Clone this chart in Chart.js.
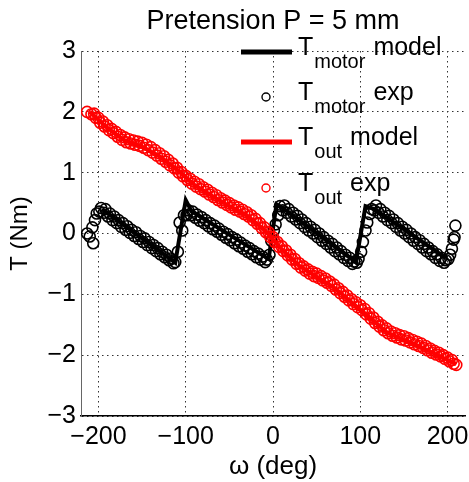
<!DOCTYPE html>
<html>
<head>
<meta charset="utf-8">
<script src="https://cdn.jsdelivr.net/npm/chart.js@4/dist/chart.umd.min.js"></script>
<style>
html, body { margin: 0; padding: 0; background: #fff; }
canvas { display: block; }
</style>
</head>
<body>
<canvas id="chart" width="469" height="482"></canvas>
<script>
// axis ticks
const xTicks = [-200, -100, 0, 100, 200];
const yTicks = [-3, -2, -1, 0, 1, 2, 3];

// legend text (T with subscript + tail)
const legendSubs = ['motor', 'motor', 'out', 'out'];
const legendTails = ['model', 'exp', 'model', 'exp'];

// [angle (deg), torque (Nm)]
const motorModel = [
    [-196, 0.40], [-112, -0.48], [-100, 0.55], [-93, 0.36], [-5, -0.42],
    [4, 0.48], [11, 0.42], [95, -0.47], [106, 0.45], [116, 0.40], [198, -0.40]
];

const motorExp = [
    [-213, 0.0], [-207, 0.10], [-206, -0.16], [-202, 0.33], [-197, 0.42], [-192, 0.40],
    [-187, 0.33], [-182, 0.28], [-177, 0.22], [-172, 0.17], [-167, 0.12], [-162, 0.06],
    [-157, 0.02], [-152, -0.04], [-147, -0.08], [-142, -0.14], [-137, -0.19], [-132, -0.24],
    [-127, -0.30], [-122, -0.35], [-117, -0.41], [-112, -0.47], [-107, 0.18], [-102, 0.30],
    [-97, 0.38], [-92, 0.36], [-87, 0.31], [-82, 0.27], [-77, 0.22], [-72, 0.17],
    [-67, 0.13], [-62, 0.08], [-57, 0.03], [-52, -0.01], [-47, -0.06], [-42, -0.10],
    [-37, -0.15], [-32, -0.20], [-27, -0.24], [-22, -0.29], [-17, -0.33], [-12, -0.38],
    [-7, -0.43], [-2, -0.12], [3, 0.15], [8, 0.45], [13, 0.46], [18, 0.40],
    [23, 0.34], [28, 0.29], [33, 0.23], [38, 0.17], [43, 0.11], [48, 0.06],
    [53, 0.0], [58, -0.06], [63, -0.12], [68, -0.17], [73, -0.23], [78, -0.29],
    [83, -0.35], [88, -0.40], [93, -0.46], [98, -0.42], [103, -0.14], [108, 0.18],
    [113, 0.40], [118, 0.46], [123, 0.40], [128, 0.34], [133, 0.29], [138, 0.23],
    [143, 0.17], [148, 0.11], [153, 0.06], [158, 0.0], [163, -0.06], [168, -0.11],
    [173, -0.17], [178, -0.23], [183, -0.29], [188, -0.34], [193, -0.40], [198, -0.44],
    [203, -0.35], [207, -0.10], [209, 0.13],
    [-210, -0.05], [-204, 0.22], [-199, 0.36], [-194, 0.34], [-189, 0.28], [-184, 0.22],
    [-179, 0.17], [-174, 0.11], [-169, 0.06], [-164, 0.01], [-159, -0.04], [-154, -0.09],
    [-149, -0.14], [-144, -0.19], [-139, -0.24], [-134, -0.29], [-129, -0.34], [-124, -0.39],
    [-119, -0.44], [-114, -0.49], [-109, -0.30], [-104, 0.05], [-99, 0.30], [-94, 0.30],
    [-89, 0.26], [-84, 0.21], [-79, 0.17], [-74, 0.12], [-69, 0.07], [-64, 0.03],
    [-59, -0.02], [-54, -0.07], [-49, -0.11], [-44, -0.16], [-39, -0.21], [-34, -0.25],
    [-29, -0.30], [-24, -0.34], [-19, -0.39], [-14, -0.43], [-9, -0.47], [-4, -0.35],
    [1, 0.05], [6, 0.30], [11, 0.38], [16, 0.34], [21, 0.28], [26, 0.23],
    [31, 0.17], [36, 0.11], [41, 0.05], [46, 0.0], [51, -0.06], [56, -0.12],
    [61, -0.17], [66, -0.23], [71, -0.29], [76, -0.34], [81, -0.40], [86, -0.45],
    [91, -0.50], [96, -0.48], [101, -0.30], [106, 0.05], [111, 0.32], [116, 0.38],
    [121, 0.34], [126, 0.28], [131, 0.22], [136, 0.17], [141, 0.11], [146, 0.05],
    [151, 0.0], [156, -0.06], [161, -0.12], [166, -0.17], [171, -0.23], [176, -0.29],
    [181, -0.34], [186, -0.40], [191, -0.45], [196, -0.48], [201, -0.42], [205, -0.25],
    [208, -0.06]
];

const outModel = [
    [-210, 2.0], [-190, 1.74], [-170, 1.53], [-150, 1.43], [-130, 1.27], [-110, 1.05],
    [-90, 0.80], [-70, 0.62], [-50, 0.45], [-30, 0.30], [-10, 0.06], [10, -0.26],
    [30, -0.53], [50, -0.71], [70, -0.89], [90, -1.13], [110, -1.37], [130, -1.62],
    [150, -1.75], [170, -1.87], [190, -2.01], [210, -2.15]
];

const outExp = [
    [-213, 2.0], [-208, 1.96], [-203, 1.90], [-198, 1.82], [-193, 1.76], [-188, 1.70],
    [-183, 1.65], [-178, 1.59], [-173, 1.54], [-168, 1.50], [-163, 1.48], [-158, 1.46],
    [-153, 1.44], [-148, 1.41], [-143, 1.37], [-138, 1.33], [-133, 1.28], [-128, 1.23],
    [-123, 1.18], [-118, 1.12], [-113, 1.07], [-108, 1.00], [-103, 0.94], [-98, 0.88],
    [-93, 0.82], [-88, 0.77], [-83, 0.73], [-78, 0.69], [-73, 0.64], [-68, 0.60],
    [-63, 0.55], [-58, 0.51], [-53, 0.47], [-48, 0.43], [-43, 0.39], [-38, 0.36],
    [-33, 0.32], [-28, 0.28], [-23, 0.22], [-18, 0.16], [-13, 0.09], [-8, 0.02],
    [-3, -0.06], [2, -0.14], [7, -0.22], [12, -0.29], [17, -0.36], [22, -0.43],
    [27, -0.50], [32, -0.56], [37, -0.61], [42, -0.66], [47, -0.70], [52, -0.73],
    [57, -0.77], [62, -0.81], [67, -0.86], [72, -0.92], [77, -0.98], [82, -1.04],
    [87, -1.10], [92, -1.16], [97, -1.21], [102, -1.26], [107, -1.33], [112, -1.40],
    [117, -1.47], [122, -1.53], [127, -1.59], [132, -1.64], [137, -1.68], [142, -1.71],
    [147, -1.74], [152, -1.76], [157, -1.79], [162, -1.82], [167, -1.85], [172, -1.88],
    [177, -1.92], [182, -1.96], [187, -1.99], [192, -2.02], [197, -2.06], [202, -2.10],
    [207, -2.14], [210, -2.16],
    [-205, 1.97], [-200, 1.90], [-195, 1.84], [-190, 1.78], [-185, 1.72], [-180, 1.67],
    [-175, 1.62], [-170, 1.58], [-165, 1.55], [-160, 1.53], [-155, 1.51], [-150, 1.49],
    [-145, 1.46], [-140, 1.42], [-135, 1.37], [-130, 1.32], [-125, 1.27], [-120, 1.21],
    [-115, 1.15], [-110, 1.08], [-105, 1.01], [-100, 0.95], [-95, 0.90], [-90, 0.85],
    [-85, 0.81], [-80, 0.76], [-75, 0.72], [-70, 0.67], [-65, 0.63], [-60, 0.58],
    [-55, 0.54], [-50, 0.50], [-45, 0.46], [-40, 0.43], [-35, 0.39], [-30, 0.35],
    [-25, 0.30], [-20, 0.24], [-15, 0.17], [-10, 0.10], [-5, 0.02], [0, -0.06],
    [5, -0.14], [10, -0.21], [15, -0.28], [20, -0.35], [25, -0.42], [30, -0.49],
    [35, -0.54], [40, -0.59], [45, -0.63], [50, -0.66], [55, -0.70], [60, -0.74],
    [65, -0.79], [70, -0.84], [75, -0.90], [80, -0.96], [85, -1.02], [90, -1.08],
    [95, -1.13], [100, -1.18], [105, -1.24], [110, -1.31], [115, -1.38], [120, -1.45],
    [125, -1.51], [130, -1.56], [135, -1.61], [140, -1.64], [145, -1.67], [150, -1.69],
    [155, -1.72], [160, -1.75], [165, -1.78], [170, -1.81], [175, -1.85], [180, -1.89],
    [185, -1.93], [190, -1.96], [195, -2.00], [200, -2.04], [205, -2.08]
];

const FONT = 'Arial, "Liberation Sans", sans-serif';
const toPoints = (pairs) => pairs.map(([x, y]) => ({ x, y }));
const minusSign = (v) => String(v).replace('-', '\u2212');

// legend drawn by hand because of the subscripts
const texLegend = {
    id: 'texLegend',
    afterDatasetsDraw(chart) {
        const ctx = chart.ctx;
        const baselines = [55, 100, 145, 191];
        const colors = ['#000', '#000', '#ff0000', '#ff0000'];
        ctx.save();
        ctx.textBaseline = 'alphabetic';
        ctx.textAlign = 'left';
        for (let i = 0; i < 4; i++) {
            const base = baselines[i];
            ctx.strokeStyle = colors[i];
            if (i % 2 === 0) {
                ctx.lineWidth = 5;
                ctx.beginPath();
                ctx.moveTo(241, base - 3);
                ctx.lineTo(292, base - 3);
                ctx.stroke();
            } else {
                ctx.lineWidth = 1.4;
                ctx.beginPath();
                ctx.arc(266, base - 3, 4, 0, Math.PI * 2);
                ctx.stroke();
            }
            ctx.fillStyle = '#000';
            ctx.font = '25px ' + FONT;
            let x = 298;
            ctx.fillText('T', x, base);
            x += ctx.measureText('T').width + 1;
            ctx.font = '20px ' + FONT;
            ctx.fillText(legendSubs[i], x, base + 13);
            x += ctx.measureText(legendSubs[i]).width + 8;
            ctx.font = '25px ' + FONT;
            ctx.fillText(legendTails[i], x, base);
        }
        ctx.restore();
    }
};

new Chart(document.getElementById('chart'), {
    type: 'scatter',
    data: {
        datasets: [
            {
                label: 'T_motor model',
                data: toPoints(motorModel),
                showLine: true,
                borderColor: '#000',
                borderWidth: 4,
                pointRadius: 0,
                order: 4,
            },
            {
                label: 'T_motor exp',
                data: toPoints(motorExp),
                borderColor: '#000',
                backgroundColor: 'rgba(0,0,0,0)',
                borderWidth: 1.6,
                pointRadius: 5.5,
                order: 3,
            },
            {
                label: 'T_out model',
                data: toPoints(outModel),
                showLine: true,
                borderColor: '#ff0000',
                borderWidth: 4,
                pointRadius: 0,
                order: 2,
            },
            {
                label: 'T_out exp',
                data: toPoints(outExp),
                borderColor: '#ff0000',
                backgroundColor: 'rgba(0,0,0,0)',
                borderWidth: 1.6,
                pointRadius: 5.5,
                order: 1,
            },
        ],
    },
    options: {
        responsive: false,
        animation: false,
        devicePixelRatio: 1,
        layout: { autoPadding: false, padding: { left: 0, right: 4, top: 0, bottom: 0 } },
        plugins: {
            legend: { display: false },
            tooltip: { enabled: false },
            title: {
                display: true,
                fullSize: false,
                text: 'Pretension P = 5 mm',
                color: '#000',
                font: { family: FONT, size: 27, weight: 'normal' },
                padding: { top: 5, bottom: 13.6 },
            },
        },
        scales: {
            x: {
                type: 'linear',
                min: -220,
                max: 220,
                afterBuildTicks: (scale) => { scale.ticks = xTicks.map((v) => ({ value: v })); },
                afterFit: (scale) => {
                    scale.height = 66;
                    scale.paddingLeft = 0;
                    scale.paddingRight = 0;
                },
                grid: { color: '#333', lineWidth: 1, drawTicks: false, tickLength: 0 },
                border: { display: true, color: '#000', width: 1.5, dash: [1.5, 3.5] },
                ticks: {
                    color: '#000',
                    padding: 6,
                    maxRotation: 0,
                    font: { family: FONT, size: 25 },
                    callback: (v) => minusSign(v),
                },
                title: {
                    display: true,
                    text: '\u03C9 (deg)',
                    color: '#000',
                    font: { family: FONT, size: 26 },
                    padding: { top: 0, bottom: 0 },
                },
            },
            y: {
                type: 'linear',
                min: -3,
                max: 3,
                afterBuildTicks: (scale) => { scale.ticks = yTicks.map((v) => ({ value: v })); },
                afterFit: (scale) => {
                    scale.width = 81;
                    scale.paddingTop = 0;
                    scale.paddingBottom = 0;
                },
                grid: { color: '#333', lineWidth: 1, drawTicks: false, tickLength: 0 },
                border: { display: true, color: '#666', width: 1, dash: [1.5, 3.5] },
                ticks: {
                    color: '#000',
                    padding: 5,
                    font: { family: FONT, size: 25 },
                    callback: (v) => minusSign(v),
                },
                title: {
                    display: true,
                    text: 'T (Nm)',
                    color: '#000',
                    font: { family: FONT, size: 24 },
                    padding: { top: 6, bottom: 0 },
                },
            },
        },
    },
    plugins: [texLegend],
});
</script>
</body>
</html>
